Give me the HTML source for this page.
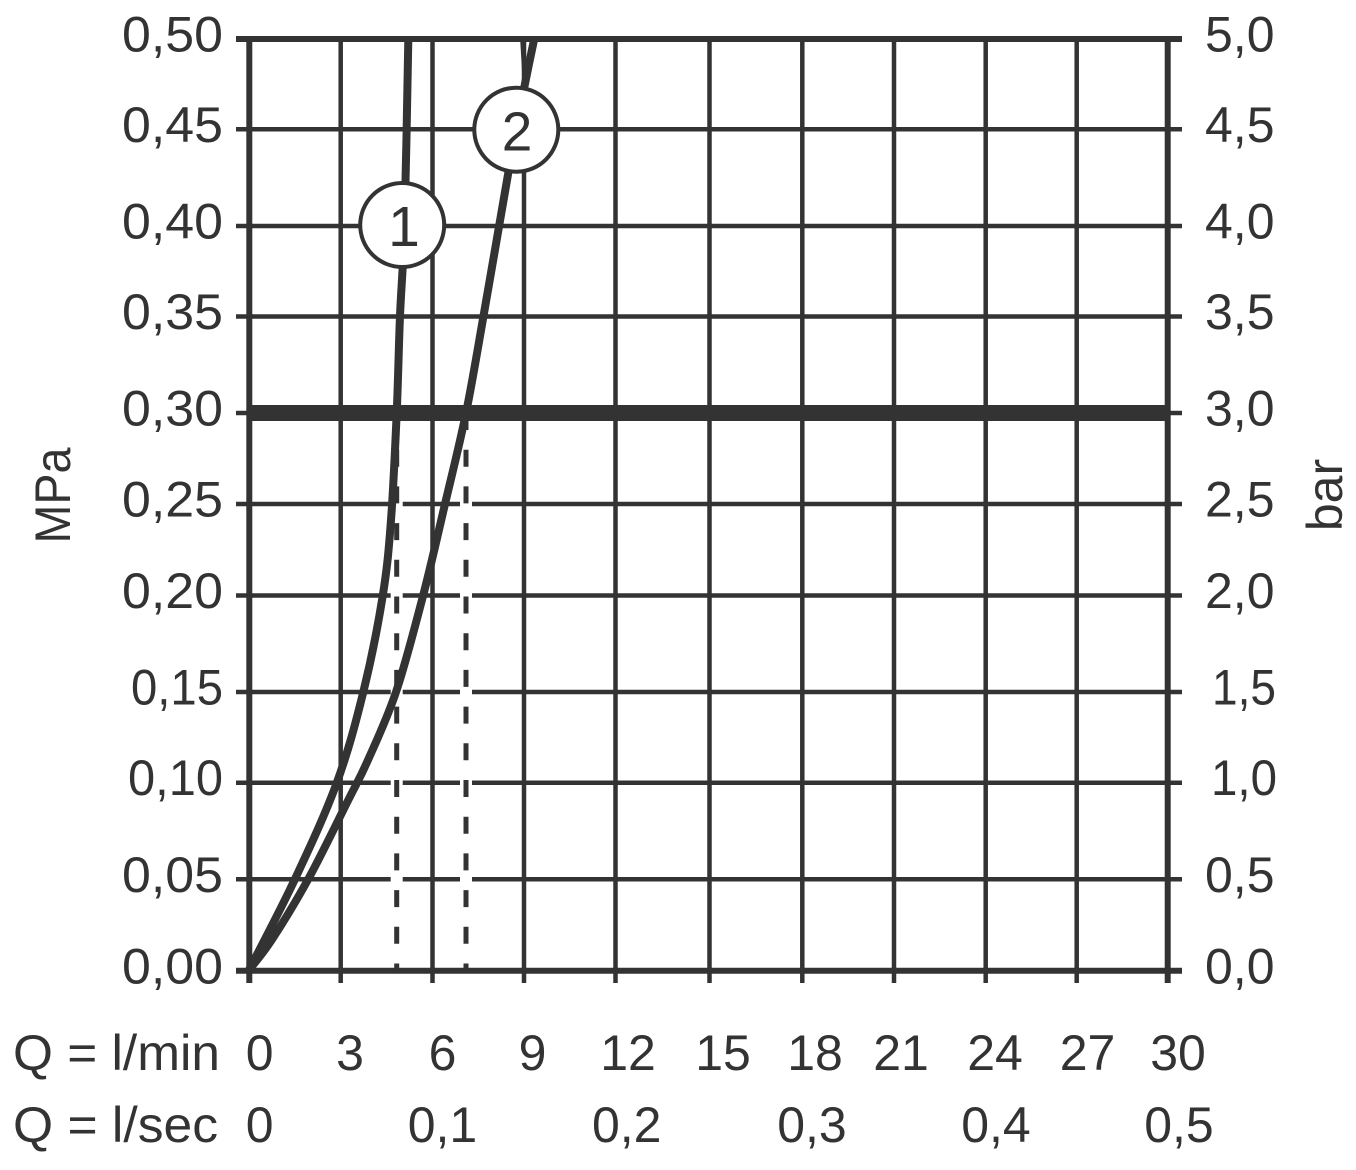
<!DOCTYPE html>
<html>
<head>
<meta charset="utf-8">
<style>
  html,body{margin:0;padding:0;background:#fff;}
  svg{display:block;}
  text{font-family:"Liberation Sans", sans-serif;fill:#333;}
</style>
</head>
<body>
<svg width="1356" height="1170" viewBox="0 0 1356 1170" xmlns="http://www.w3.org/2000/svg">
  <rect width="1356" height="1170" fill="#fff"/>

  <!-- vertical grid lines (extend to bottom ticks) -->
  <g stroke="#333" stroke-width="4.5">
    <line x1="340.7" y1="39" x2="340.7" y2="983"/>
    <line x1="432.5" y1="39" x2="432.5" y2="983"/>
    <line x1="524" y1="39" x2="524" y2="983"/>
    <line x1="615.5" y1="39" x2="615.5" y2="983"/>
    <line x1="709.5" y1="39" x2="709.5" y2="983"/>
    <line x1="802.3" y1="39" x2="802.3" y2="983"/>
    <line x1="894" y1="39" x2="894" y2="983"/>
    <line x1="985.7" y1="39" x2="985.7" y2="983"/>
    <line x1="1076.7" y1="39" x2="1076.7" y2="983"/>
  </g>

  <!-- horizontal grid lines (extend to left/right ticks) -->
  <g stroke="#333" stroke-width="4.5">
    <line x1="236" y1="129.3" x2="1182" y2="129.3"/>
    <line x1="236" y1="226" x2="1182" y2="226"/>
    <line x1="236" y1="316.5" x2="1182" y2="316.5"/>
    <line x1="236" y1="413" x2="1182" y2="413"/>
    <line x1="236" y1="504" x2="1182" y2="504"/>
    <line x1="236" y1="595.5" x2="1182" y2="595.5"/>
    <line x1="236" y1="692" x2="1182" y2="692"/>
    <line x1="236" y1="782.7" x2="1182" y2="782.7"/>
    <line x1="236" y1="879.3" x2="1182" y2="879.3"/>
  </g>

  <!-- axes / frame -->
  <g stroke="#333" stroke-width="6">
    <line x1="236" y1="39" x2="1182" y2="39"/>
    <line x1="236" y1="970.8" x2="1182" y2="970.8"/>
    <line x1="249.3" y1="36" x2="249.3" y2="983"/>
    <line x1="1167.7" y1="36" x2="1167.7" y2="983"/>
  </g>

  <!-- thick 0.30 MPa line -->
  <rect x="249" y="405" width="919" height="16" fill="#333"/>

  <!-- white gaps where dashed lines cross grid lines -->
  <g fill="#fff">
    <rect x="390.7" y="501" width="12" height="6"/>
    <rect x="390.7" y="592.5" width="12" height="6"/>
    <rect x="390.7" y="689" width="12" height="6"/>
    <rect x="390.7" y="779.7" width="12" height="6"/>
    <rect x="390.7" y="876.3" width="12" height="6"/>
    <rect x="460" y="501" width="12" height="6"/>
    <rect x="460" y="592.5" width="12" height="6"/>
    <rect x="460" y="689" width="12" height="6"/>
    <rect x="460" y="779.7" width="12" height="6"/>
    <rect x="460" y="876.3" width="12" height="6"/>
  </g>

  <!-- dashed drop lines -->
  <g stroke="#333" stroke-width="5" stroke-dasharray="17 19.7">
    <line x1="396.7" y1="413" x2="396.7" y2="971"/>
    <line x1="466" y1="413" x2="466" y2="971"/>
  </g>

  <!-- curves -->
  <g fill="none" stroke="#333" stroke-width="8" stroke-linejoin="round" stroke-linecap="round">
    <path d="M249,970 C256.7,954.8 280.4,910.2 295,879 C309.6,847.8 325.3,814.2 336.7,783 C348.1,751.8 355.6,723.2 363.3,692 C371,660.8 378.1,624.7 382.7,596 C387.3,567.3 388.7,550.5 391,520 C393.3,489.5 395.2,447 396.7,413 C398.2,379 398.7,347.3 400,316 C401.3,284.7 403.1,271.2 404.5,225 C405.9,178.8 407.7,70 408.3,40"/>
    <path d="M249,970 C252.8,965 261.8,955.2 271.7,940 C281.6,924.8 295.5,902.3 308.3,879 C321.1,855.7 338.35,819.8 348.3,800 C358.25,780.2 360.05,778 368,760 C375.95,742 386.8,719.3 396,692 C405.2,664.7 414.8,627.3 423,596 C431.2,564.7 437.8,534.5 445,504 C452.2,473.5 459.6,444.3 466,413 C472.4,381.7 477.7,349 483.5,316 C489.3,283 495.6,246 501,215 C506.4,184 510.5,159.3 516,130 C521.5,100.7 531,54.2 534,40"/>
  </g>
  <line x1="524.5" y1="88" x2="521.7" y2="40" stroke="#333" stroke-width="3"/>

  <!-- circle markers -->
  <circle cx="402.2" cy="225" r="42" fill="#fff" stroke="#333" stroke-width="4"/>
  <text x="404" y="246" font-size="57" text-anchor="middle">1</text>
  <circle cx="516.3" cy="129.7" r="42" fill="#fff" stroke="#333" stroke-width="4"/>
  <text x="517" y="150.5" font-size="55" text-anchor="middle">2</text>

  <!-- left tick labels (MPa) -->
  <g font-size="50" text-anchor="end">
    <text x="223" y="51.5" textLength="101" lengthAdjust="spacingAndGlyphs">0,50</text>
    <text x="223" y="141.8" textLength="101" lengthAdjust="spacingAndGlyphs">0,45</text>
    <text x="223" y="238.5" textLength="101" lengthAdjust="spacingAndGlyphs">0,40</text>
    <text x="223" y="329" textLength="101" lengthAdjust="spacingAndGlyphs">0,35</text>
    <text x="223" y="425.5" textLength="101" lengthAdjust="spacingAndGlyphs">0,30</text>
    <text x="223" y="516.5" textLength="101" lengthAdjust="spacingAndGlyphs">0,25</text>
    <text x="223" y="608" textLength="101" lengthAdjust="spacingAndGlyphs">0,20</text>
    <text x="223" y="704.5" textLength="92" lengthAdjust="spacingAndGlyphs">0,15</text>
    <text x="223" y="795.2" textLength="95" lengthAdjust="spacingAndGlyphs">0,10</text>
    <text x="223" y="891.8" textLength="101" lengthAdjust="spacingAndGlyphs">0,05</text>
    <text x="223" y="983.3" textLength="101" lengthAdjust="spacingAndGlyphs">0,00</text>
  </g>

  <!-- right tick labels (bar) -->
  <g font-size="50" text-anchor="start">
    <text x="1205" y="51.5">5,0</text>
    <text x="1205" y="141.8">4,5</text>
    <text x="1205" y="238.5">4,0</text>
    <text x="1205" y="329">3,5</text>
    <text x="1205" y="425.5">3,0</text>
    <text x="1205" y="516.5">2,5</text>
    <text x="1205" y="608">2,0</text>
    <text x="1212" y="704.5" textLength="64" lengthAdjust="spacingAndGlyphs">1,5</text>
    <text x="1211" y="795.2" textLength="66" lengthAdjust="spacingAndGlyphs">1,0</text>
    <text x="1205" y="891.8">0,5</text>
    <text x="1205" y="983.3">0,0</text>
  </g>

  <!-- axis titles -->
  <text font-size="50" text-anchor="middle" transform="translate(70,495.5) rotate(-90)" textLength="96" lengthAdjust="spacingAndGlyphs">MPa</text>
  <text font-size="50" text-anchor="middle" transform="translate(1342,495) rotate(-90)">bar</text>

  <!-- bottom labels -->
  <g font-size="50">
    <text x="13" y="1070" textLength="207" lengthAdjust="spacingAndGlyphs">Q = l/min</text>
    <text x="13" y="1142" textLength="205" lengthAdjust="spacingAndGlyphs">Q = l/sec</text>
  </g>
  <g font-size="50" text-anchor="middle">
    <text x="259.7" y="1070">0</text>
    <text x="350" y="1070">3</text>
    <text x="442.5" y="1070">6</text>
    <text x="532.5" y="1070">9</text>
    <text x="628" y="1070">12</text>
    <text x="723" y="1070">15</text>
    <text x="815" y="1070">18</text>
    <text x="901" y="1070">21</text>
    <text x="995" y="1070">24</text>
    <text x="1087.5" y="1070">27</text>
    <text x="1178" y="1070">30</text>

    <text x="259.7" y="1142">0</text>
    <text x="442.5" y="1142">0,1</text>
    <text x="626.7" y="1142">0,2</text>
    <text x="812" y="1142">0,3</text>
    <text x="996" y="1142">0,4</text>
    <text x="1179" y="1142">0,5</text>
  </g>
</svg>
</body>
</html>
